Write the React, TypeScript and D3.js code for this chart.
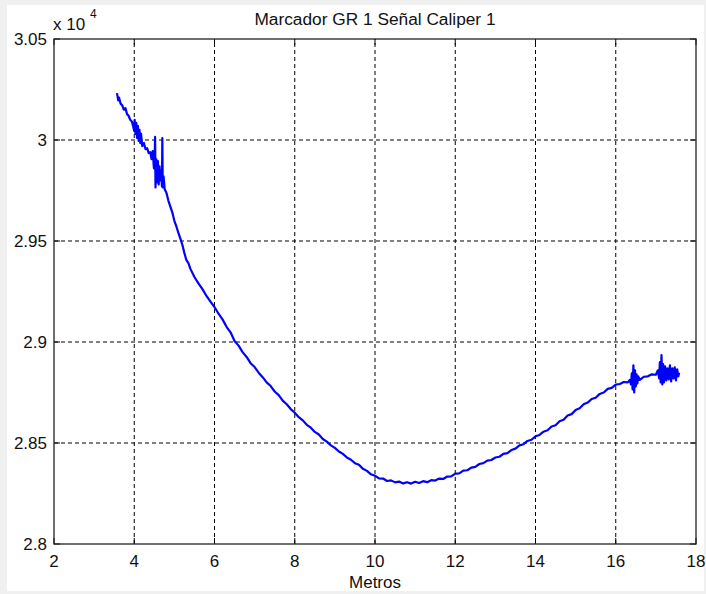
import React from 'react';
import * as d3 from 'd3';

// Metros (x) and Caliper signal (y)
const metros = [
  3.57, 3.6, 3.62, 3.66, 3.7, 3.74, 3.78, 3.82, 3.86, 3.9, 3.94, 3.97,
  4.0, 4.01, 4.03, 4.05, 4.07, 4.09, 4.11, 4.13, 4.15, 4.17, 4.2, 4.24, 4.28, 4.32, 4.36, 4.4,
  4.43, 4.46, 4.49, 4.51, 4.52, 4.53, 4.55, 4.57, 4.59, 4.61, 4.63, 4.65, 4.67, 4.69, 4.7, 4.71,
  4.73, 4.76, 4.8, 4.85, 4.9, 4.95, 5.0, 5.05, 5.1, 5.15, 5.2, 5.25, 5.3, 5.35, 5.4,
  5.5, 5.6, 5.7, 5.8, 5.9, 6.0, 6.1, 6.2, 6.3, 6.4, 6.5, 6.6, 6.7, 6.8, 6.9,
  7.0, 7.1, 7.2, 7.3, 7.4, 7.5, 7.6, 7.7, 7.8, 7.9, 8.0, 8.1, 8.2, 8.3, 8.4, 8.5, 8.6, 8.7, 8.8, 8.9,
  9.0, 9.1, 9.2, 9.3, 9.4, 9.5, 9.6, 9.7, 9.8, 9.9, 10.0, 10.1, 10.2, 10.3, 10.4, 10.5, 10.6, 10.7, 10.8, 10.9,
  11.0, 11.1, 11.2, 11.3, 11.4, 11.5, 11.6, 11.7, 11.8, 11.9, 12.0, 12.1, 12.2, 12.3, 12.4, 12.5, 12.6, 12.7, 12.8, 12.9,
  13.0, 13.1, 13.2, 13.3, 13.4, 13.5, 13.6, 13.7, 13.8, 13.9, 14.0, 14.1, 14.2, 14.3, 14.4, 14.5, 14.6, 14.7, 14.8, 14.9,
  15.0, 15.1, 15.2, 15.3, 15.4, 15.5, 15.6, 15.7, 15.8, 15.9, 16.0, 16.1, 16.2, 16.3,
  16.35, 16.38, 16.4, 16.42, 16.44, 16.46, 16.48, 16.5, 16.52, 16.54, 16.56, 16.6,
  16.7, 16.8, 16.9, 17.0, 17.05, 17.08, 17.1, 17.12, 17.14, 17.16, 17.18, 17.2, 17.23, 17.26, 17.29,
  17.32, 17.35, 17.38, 17.41, 17.44, 17.47, 17.5, 17.53, 17.56, 17.58,
];

const caliper = [
  30232, 30196, 30210, 30180, 30172, 30150, 30158, 30128, 30120, 30100, 30092, 30070,
  30045, 30100, 30030, 30085, 30010, 30070, 29995, 30050, 29985, 30030, 29970, 29985, 29955, 29960, 29935, 29940,
  29905, 29945, 29860, 29925, 30015, 29765, 29905, 29790, 29895, 29780, 29870, 29800, 29850, 29770, 30010, 29765,
  29820, 29755, 29740, 29700, 29670, 29640, 29600, 29572, 29540, 29512, 29480, 29440, 29405, 29390, 29362,
  29322, 29290, 29262, 29228, 29200, 29173, 29140, 29112, 29075, 29048, 29005, 28982, 28950, 28926, 28895,
  28876, 28848, 28826, 28800, 28782, 28755, 28737, 28710, 28692, 28668, 28650, 28628, 28612, 28590, 28576, 28555, 28542, 28520, 28507, 28488,
  28476, 28458, 28446, 28428, 28417, 28400, 28392, 28372, 28362, 28345, 28338, 28325, 28324, 28312, 28315, 28305, 28309, 28300, 28306, 28299,
  28308, 28302, 28311, 28306, 28316, 28314, 28324, 28322, 28334, 28335, 28348, 28350, 28363, 28365, 28378, 28382, 28396, 28400, 28413, 28416,
  28428, 28432, 28446, 28450, 28465, 28472, 28488, 28494, 28510, 28516, 28533, 28540, 28556, 28563, 28582, 28588, 28608, 28615, 28636, 28643,
  28663, 28672, 28692, 28700, 28718, 28724, 28743, 28750, 28768, 28773, 28789, 28792, 28802, 28800,
  28812, 28790, 28845, 28765, 28885, 28750, 28860, 28780, 28840, 28795, 28830, 28812,
  28828, 28830, 28840, 28838, 28860, 28820, 28900, 28800, 28935, 28790, 28890, 28800, 28880, 28810, 28870,
  28815, 28885, 28805, 28870, 28820, 28875, 28810, 28865, 28830, 28848,
];

const xTicks = [2, 4, 6, 8, 10, 12, 14, 16, 18];
const yTicks = [28000, 28500, 29000, 29500, 30000, 30500];
const yTickLabels = ['2.8', '2.85', '2.9', '2.95', '3', '3.05'];

const W = 706;
const H = 594;
const margin = { top: 39, right: 10, bottom: 50, left: 54 };
const FONT = '"Liberation Sans", Arial, sans-serif';

export default function App() {
  const x = d3.scaleLinear().domain([2, 18]).range([margin.left, W - margin.right]);
  const y = d3.scaleLinear().domain([28000, 30500]).range([H - margin.bottom, margin.top]);
  const pts: [number, number][] = metros.map((m, i) => [m, caliper[i]]);
  const line = d3.line<[number, number]>().x((d) => x(d[0])).y((d) => y(d[1]));

  const x0 = x(2);
  const x1 = x(18);
  const y0 = y(28000);
  const y1 = y(30500);
  const tickLen = 6;

  return (
    <div style={{ position: 'fixed', left: 0, top: 0 }}>
      <svg width={W} height={H} style={{ display: 'block' }} fontFamily={FONT}>
        <rect x={0} y={0} width={W} height={H} fill="#f0f0f0" />
        <rect x={7} y={5} width={W - 9} height={H - 8} fill="#ffffff" />

        {/* grid */}
        {xTicks.slice(1, -1).map((t) => (
          <line key={'gx' + t} x1={x(t)} x2={x(t)} y1={y0} y2={y1} stroke="#000" strokeWidth={1} strokeDasharray="4,3" />
        ))}
        {yTicks.slice(1, -1).map((t) => (
          <line key={'gy' + t} x1={x0} x2={x1} y1={y(t)} y2={y(t)} stroke="#000" strokeWidth={1} strokeDasharray="4,3" />
        ))}

        {/* data */}
        <path d={line(pts) || ''} fill="none" stroke="#0000ff" strokeWidth={2.2} strokeLinejoin="round" />

        {/* ticks on all sides */}
        {xTicks.map((t) => (
          <g key={'tx' + t}>
            <line x1={x(t)} x2={x(t)} y1={y0} y2={y0 - tickLen} stroke="#000" />
            <line x1={x(t)} x2={x(t)} y1={y1} y2={y1 + tickLen} stroke="#000" />
            <text x={x(t)} y={y0 + 23} textAnchor="middle" fontSize={17} fill="#111">{t}</text>
          </g>
        ))}
        {yTicks.map((t, i) => (
          <g key={'ty' + t}>
            <line x1={x0} x2={x0 + tickLen} y1={y(t)} y2={y(t)} stroke="#000" />
            <line x1={x1} x2={x1 - tickLen} y1={y(t)} y2={y(t)} stroke="#000" />
            <text x={x0 - 7} y={y(t)} dy="0.36em" textAnchor="end" fontSize={17} fill="#111">{yTickLabels[i]}</text>
          </g>
        ))}

        <rect x={x0} y={y1} width={x1 - x0} height={y0 - y1} fill="none" stroke="#222" strokeWidth={1.3} />

        <text x={x0 - 1} y={30} fontSize={17} fill="#111">x 10</text>
        <text x={x0 + 36} y={18} fontSize={12} fill="#111">4</text>

        <text x={(x0 + x1) / 2} y={25} textAnchor="middle" fontSize={17.3} fill="#111">Marcador GR 1 Señal Caliper 1</text>
        <text x={(x0 + x1) / 2} y={588} textAnchor="middle" fontSize={17} fill="#111">Metros</text>
      </svg>
    </div>
  );
}
